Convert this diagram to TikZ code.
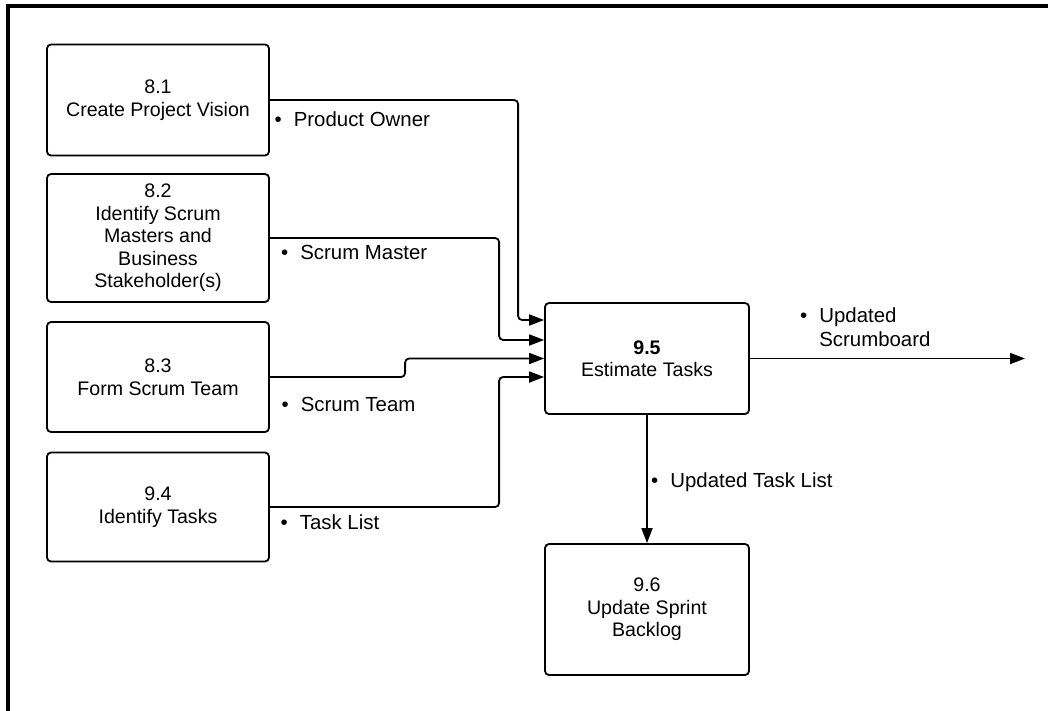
\documentclass[tikz,border=0pt]{standalone}
\usepackage{fontspec}
\setmainfont{Liberation Sans}
\usetikzlibrary{arrows.meta}
\begin{document}
\begin{tikzpicture}[x=1pt,y=-1pt,
  box/.style={draw,line width=1.8pt,rounded corners=4pt,align=center,inner sep=0pt,
    font=\fontsize{19.6}{22.5}\selectfont},
  conn/.style={line width=1.8pt,rounded corners=4pt,-{Triangle[length=15pt,width=11pt]}},
  lbl/.style={anchor=base west,inner sep=0pt,font=\fontsize{20.4}{24}\selectfont}]
\useasboundingbox (0,0) rectangle (1048,710);
\draw[line width=4pt] (8,714) -- (8,6) -- (1052,6);

\node[box,minimum width=222pt,minimum height=111pt] (n81) at (158,100) {8.1\\Create Project Vision};
\node[box,minimum width=222pt,minimum height=128pt] (n82) at (158,238) {8.2\\Identify Scrum\\Masters and\\Business\\Stakeholder(s)};
\node[box,minimum width=222pt,minimum height=110pt] (n83) at (158,377) {8.3\\Form Scrum Team};
\node[box,minimum width=222pt,minimum height=109pt] (n94) at (158,507) {9.4\\Identify Tasks};
\node[box,minimum width=204pt,minimum height=111pt] (n95) at (647,358.5) {\textbf{9.5}\\Estimate Tasks};
\node[box,minimum width=204pt,minimum height=131pt] (n96) at (647,609.5) {9.6\\Update Sprint\\Backlog};

\draw[conn] (n81.east) -| ([xshift=-26pt,yshift=38.5pt]n95.west) -- ([yshift=38.5pt]n95.west);
\draw[conn] (n82.east) -| ([xshift=-45pt,yshift=18.5pt]n95.west) -- ([yshift=18.5pt]n95.west);
\draw[conn] (n83.east) -| ([xshift=-139pt]n95.west) -- (n95.west);
\draw[conn] (n94.east) -| ([xshift=-45pt,yshift=-18.5pt]n95.west) -- ([yshift=-18.5pt]n95.west);
\coordinate (out) at (1025,358.5);
\draw[conn] (n95.east) -- (out);
\draw[conn] (n95.south) -- (n96.north);

\node[lbl] (l1) at (274.5,126.5) {•\hspace{12pt}Product Owner};
\node[lbl] (l2) at (281,259.5) {•\hspace{12pt}Scrum Master};
\node[lbl] (l3) at (281.5,411.5) {•\hspace{12pt}Scrum Team};
\node[lbl] (l4) at (280.5,529.5) {•\hspace{12pt}Task List};
\node[lbl] (l5) at (651,487.5) {•\hspace{12pt}Updated Task List};
\node[lbl] (l6) at (800,322.5) {•\hspace{12pt}\begin{tabular}[t]{@{}l@{}}Updated\\Scrumboard\end{tabular}};
\end{tikzpicture}
\end{document}
